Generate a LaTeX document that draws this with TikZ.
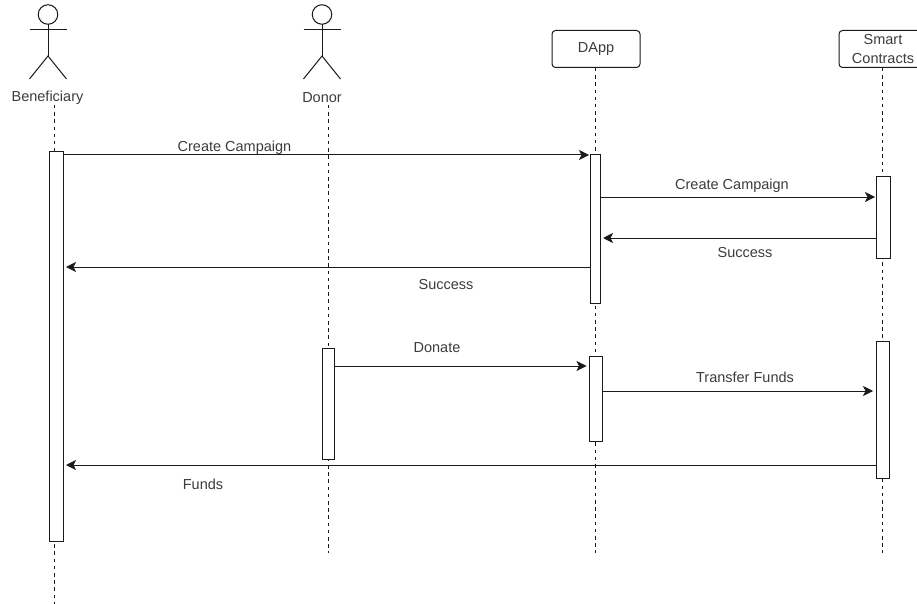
\documentclass[tikz,border=0pt]{standalone}
\usepackage{fontspec}
\setmainfont{Liberation Sans}
\usetikzlibrary{arrows.meta}
\definecolor{ink}{HTML}{1A1A1A}
\definecolor{txt}{HTML}{3C3C3C}
\tikzset{
  bar/.style={draw=ink,fill=white,line width=1pt,inner sep=0pt,outer sep=0pt},
  role/.style={draw=ink,fill=white,rounded corners=3.5pt,line width=1pt,inner sep=0pt,outer sep=0pt,
    minimum height=37pt,align=center,font=\fontsize{14.5}{18.5}\selectfont,text=txt},
  lifeline/.style={draw=ink,line width=1pt,dash pattern=on 3.5pt off 3.7pt},
  msg/.style={draw=ink,line width=1pt,-{Stealth[length=10pt,width=10pt,inset=2.5pt]}},
  lbl/.style={font=\fontsize{14.5}{17}\selectfont,text=txt,inner sep=0pt},
  head/.style={draw=ink,circle,line width=1pt,minimum size=19.5pt,inner sep=0pt,outer sep=0pt},
  limb/.style={draw=ink,line width=1pt}
}
\begin{document}
\begin{tikzpicture}[x=1pt,y=-1pt]
\useasboundingbox (0,0) rectangle (917,604);
% anchors along lifelines
\coordinate (benTop) at (54,105);
\coordinate (benEnd) at (54,604);
\coordinate (donTop) at (328,105);
\coordinate (donEnd) at (328,553);
\coordinate (dappEnd) at (595,553);
\coordinate (scEnd) at (882,553);
\coordinate (dappTop) at (595,68);
\coordinate (scTop) at (882,68);
% lifelines
\draw[lifeline] (benTop) -- (benEnd);
\draw[lifeline] (donTop) -- (donEnd);
\draw[lifeline] (dappTop) -- (dappEnd);
\draw[lifeline] (scTop) -- (scEnd);
% role boxes
\node[role,minimum width=88pt] (dapp) at (596,49) {DApp};
\node[role,minimum width=88pt] (sc) at (883,49) {Smart\\Contracts};
% actor labels
\node[lbl] (benL) at (47.5,98) {Beneficiary};
\node[lbl] (donL) at (322,98) {Donor};
% actors
\foreach \n/\cx in {a/48,b/322}{
  \node[head] (h\n) at (\cx,14.5) {};
  \coordinate (hip\n) at (\cx,56);
  \coordinate (lh\n) at (\cx-18.5,30);
  \coordinate (rh\n) at (\cx+18.5,30);
  \coordinate (lf\n) at (\cx-18.5,79);
  \coordinate (rf\n) at (\cx+18.5,79);
  \draw[limb] (h\n.south) -- (hip\n);
  \draw[limb] (lh\n) -- (rh\n);
  \draw[limb] (lf\n) -- (hip\n) -- (rf\n);
}
% activation bars
\node[bar,minimum width=14pt,minimum height=389pt] (benA) at (56,346.5) {};
\node[bar,minimum width=10pt,minimum height=148pt] (dappA) at (595,229) {};
\node[bar,minimum width=14pt,minimum height=82pt] (scA) at (883,217) {};
\node[bar,minimum width=12pt,minimum height=111pt] (donA) at (328,403.5) {};
\node[bar,minimum width=13pt,minimum height=85pt] (dappB) at (596,398.5) {};
\node[bar,minimum width=13pt,minimum height=137pt] (scB) at (882.5,409.5) {};
% message rows
\coordinate (m1) at (0,155);
\coordinate (m2) at (0,197);
\coordinate (m3) at (0,238);
\coordinate (m4) at (0,267);
\coordinate (m5) at (0,366);
\coordinate (m6) at (0,391);
\coordinate (m7) at (0,465);
\draw[msg,shorten >=1pt] (benA.east |- m1) -- (dappA.west |- m1);
\draw[msg,shorten >=1pt] (dappA.east |- m2) -- (scA.west |- m2);
\draw[msg,shorten >=3pt] (scA.west |- m3) -- (dappA.east |- m3);
\draw[msg,shorten >=3pt] (dappA.west |- m4) -- (benA.east |- m4);
\draw[msg,shorten >=3pt] (donA.east |- m5) -- (dappB.west |- m5);
\draw[msg,shorten >=3pt] (dappB.east |- m6) -- (scB.west |- m6);
\draw[msg,shorten >=3pt] (scB.west |- m7) -- (benA.east |- m7);
% labels
\node[lbl] (t1) at (234.5,148) {Create Campaign};
\node[lbl] (t2) at (732,186) {Create Campaign};
\node[lbl] (t3) at (745,253) {Success};
\node[lbl] (t4) at (446,285) {Success};
\node[lbl] (t5) at (437,348) {Donate};
\node[lbl] (t6) at (745,377) {Transfer Funds};
\node[lbl] (t7) at (203,484) {Funds};
\end{tikzpicture}
\end{document}
